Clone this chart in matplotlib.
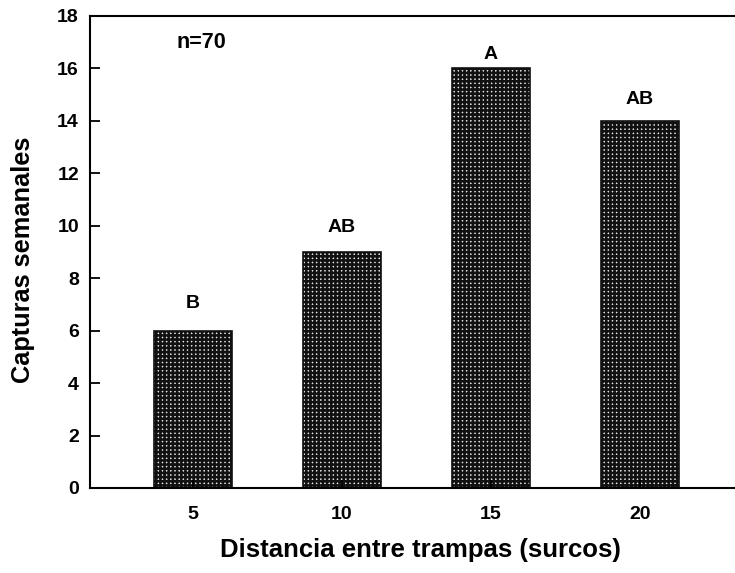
import matplotlib
matplotlib.use("Agg")
import matplotlib.pyplot as plt

categories = ["5", "10", "15", "20"]
values = [6, 9, 16, 14]
letters = ["B", "AB", "A", "AB"]
letter_y = [7.05, 9.95, 16.55, 14.8]
yticks = [0, 2, 4, 6, 8, 10, 12, 14, 16, 18]

plt.rcParams['font.family'] = ['Liberation Sans', 'DejaVu Sans']
plt.rcParams['font.weight'] = 'bold'
plt.rcParams['hatch.linewidth'] = 1.85
plt.rcParams['hatch.color'] = '#111111'

fig = plt.figure(figsize=(7.35, 5.73), dpi=100)
W, H = 735, 573
left, bottom, top = 90, 488, 16
x = list(range(len(categories)))
xlim = (-0.69, 3.75)
px_per_unit = 149
width_px = (xlim[1] - xlim[0]) * px_per_unit
ax = fig.add_axes([left / W, (H - bottom) / H, width_px / W, (bottom - top) / H])

ax.bar(x, values, width=0.52, color='#e4e4e4', edgecolor='#111111', hatch='++++', linewidth=0)
ax.bar(x, values, width=0.52, fill=False, edgecolor='#111111', linewidth=1.2)

for xi, lab, ly in zip(x, letters, letter_y):
    ax.text(xi, ly, lab, ha='center', va='center', fontsize=14, fontweight='bold')

ax.text(0.168, 0.943, "n=70", transform=ax.transAxes, ha='center', va='center', fontsize=15.5, fontweight='bold')

ax.set_xlim(*xlim)
ax.set_ylim(0, 18)
ax.set_xticks(x)
ax.set_xticklabels(categories)
ax.set_yticks(yticks)
ax.tick_params(axis='both', direction='in', width=1.3, labelsize=14)
ax.tick_params(axis='y', length=7, pad=8)
ax.tick_params(axis='x', length=6, pad=13)
for s in ['left', 'bottom', 'top', 'right']:
    ax.spines[s].set_linewidth(1.5)
ax.set_xlabel("Distancia entre trampas (surcos)", fontsize=18.5, fontweight='bold', labelpad=11)
ax.set_ylabel("Capturas semanales", fontsize=18.3, fontweight='bold', va='center')
ax.yaxis.set_label_coords((23 - left) / width_px, (bottom - 260) / (bottom - top))

fig.savefig("out.png", dpi=100)
